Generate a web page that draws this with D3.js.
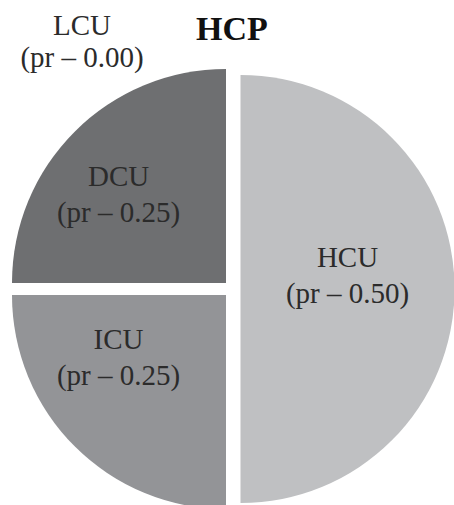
<!DOCTYPE html>
<html>
<head>
<meta charset="utf-8">
<script src="https://cdn.jsdelivr.net/npm/d3@7"></script>
<style>
  body { margin: 0; background: #fff; }
  text { font-family: "Liberation Serif", "DejaVu Serif", serif; fill: #2b2b2b; }
</style>
</head>
<body>
<div id="chart"></div>
<script>
// dados do grafico
var title = "HCP";
var categories = ["HCU", "ICU", "DCU", "LCU"];
var values = [0.50, 0.25, 0.25, 0.00];
var valueLabels = ["0.50", "0.25", "0.25", "0.00"];
var colors = ["#bfc0c2", "#939497", "#6e6f71", "#ffffff"];

var width = 454, height = 505;
var radius = 214;
var explode = 8.5;
var cx = 232, cy = 289;

var svg = d3.select("#chart")
            .append("svg")
            .attr("width", width)
            .attr("height", height);

var data = categories.map(function(c, i) {
  return { name: c, value: values[i], label: valueLabels[i], color: colors[i] };
});

var pie = d3.pie()
            .sort(null)
            .value(function(d) { return d.value; });

var arc = d3.arc().innerRadius(0).outerRadius(radius);

var arcs = pie(data);

var g = svg.append("g")
           .attr("transform", "translate(" + cx + "," + cy + ")");

// fatias deslocadas ao longo da bissetriz
function offset(d) {
  var a = (d.startAngle + d.endAngle) / 2;
  return [Math.sin(a) * explode, -Math.cos(a) * explode];
}

var slices = g.selectAll("g.slice")
  .data(arcs.filter(function(d) { return d.value > 0; }))
  .enter()
  .append("g")
  .attr("class", "slice")
  .attr("transform", function(d) { var o = offset(d); return "translate(" + o[0] + "," + o[1] + ")"; });

slices.append("path")
  .attr("d", arc)
  .attr("fill", function(d) { return d.data.color; });

// rotulos: centroide, com as fatias da esquerda empurradas para fora
slices.append("text")
  .attr("text-anchor", "middle")
  .attr("transform", function(d) {
    var c = arc.centroid(d);
    var kx = d.data.name === "HCU" ? 1 : 1.42;
    return "translate(" + (c[0] * kx) + "," + c[1] + ")";
  })
  .style("font-size", "29px")
  .each(function(d) {
    var t = d3.select(this);
    t.append("tspan").attr("x", 0).attr("dy", "-0.75em").text(d.data.name);
    t.append("tspan").attr("x", 0).attr("dy", "1.24em").text("(pr \u2013 " + d.data.label + ")");
  });

// LCU (valor zero) fica fora da pizza, no canto superior esquerdo
var zero = arcs.filter(function(d) { return d.value === 0; });
svg.selectAll("text.zero")
  .data(zero)
  .enter()
  .append("text")
  .attr("class", "zero")
  .attr("text-anchor", "middle")
  .attr("x", 82)
  .attr("y", 35)
  .style("font-size", "29px")
  .each(function(d) {
    var t = d3.select(this);
    t.append("tspan").attr("x", 82).attr("dy", 0).text(d.data.name);
    t.append("tspan").attr("x", 82).attr("dy", "1.1em").text("(pr \u2013 " + d.data.label + ")");
  });

// titulo
svg.append("text")
   .attr("x", 232)
   .attr("y", 40)
   .attr("text-anchor", "middle")
   .style("font-size", "34px")
   .style("font-weight", "bold")
   .style("fill", "#111")
   .text(title);
</script>
</body>
</html>
